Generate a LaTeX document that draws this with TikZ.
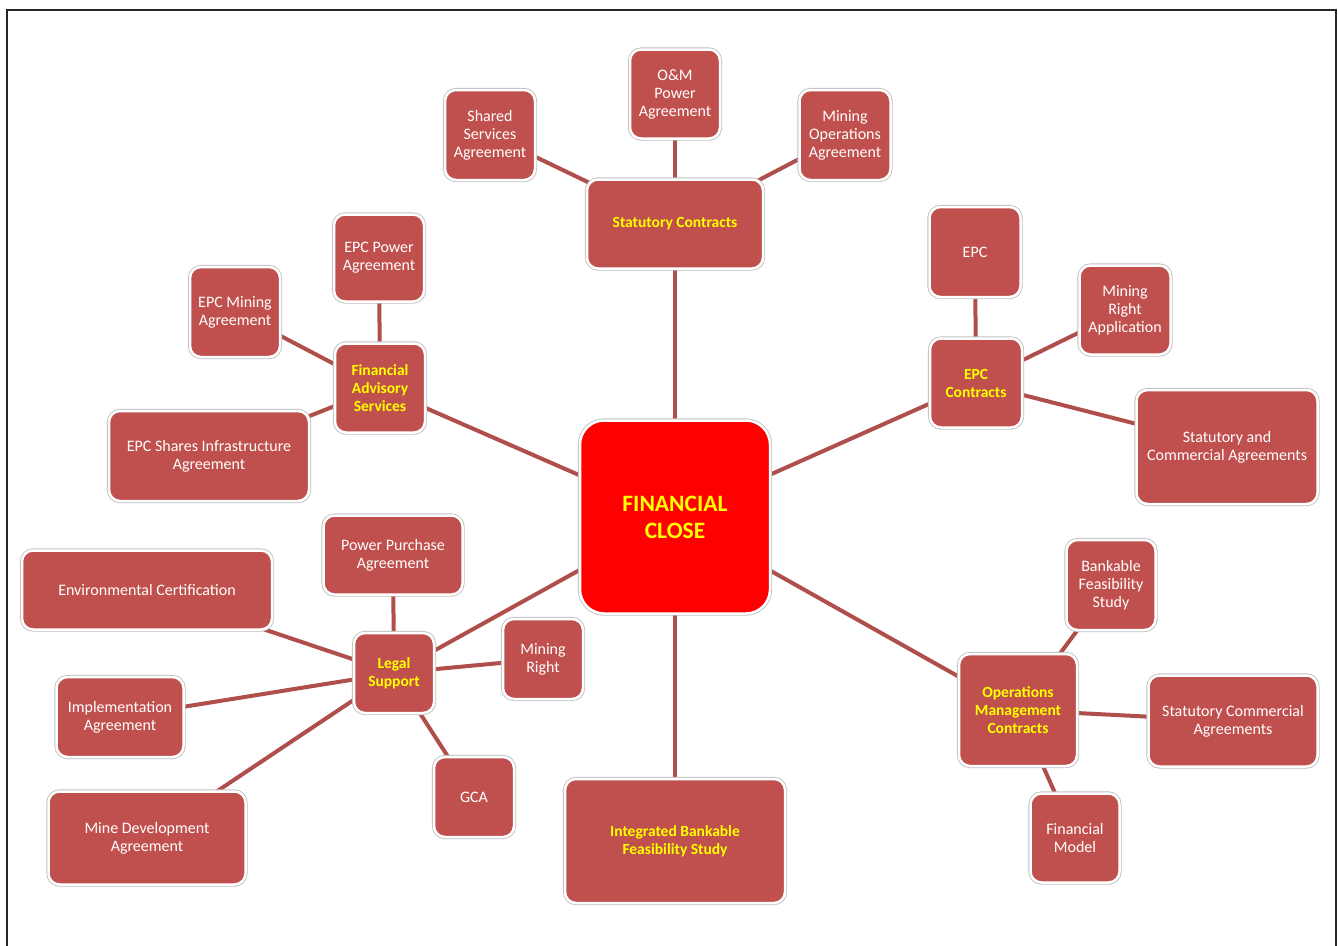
\documentclass[tikz,border=0pt]{standalone}
\usepackage{fontspec}
\setmainfont{Carlito}
\usetikzlibrary{backgrounds}
\definecolor{boxred}{HTML}{C0504D}
\definecolor{linkred}{HTML}{B04E4B}
\definecolor{hubred}{HTML}{FF0000}
\definecolor{labelyellow}{HTML}{FFFF00}
\tikzset{
  basebox/.style={rounded corners=11pt, fill=boxred, draw=white, line width=2.5pt,
    preaction={draw=black!25, line width=4.2pt}, align=center, inner sep=2pt},
  leafbox/.style={basebox, text=white, font=\fontsize{16}{18}\selectfont},
  groupbox/.style={basebox, text=labelyellow, font=\bfseries\fontsize{15.5}{18}\selectfont},
  hubbox/.style={basebox, fill=hubred, rounded corners=24pt, text=labelyellow, font=\bfseries\fontsize{23.5}{27}\selectfont},
  link/.style={draw=linkred, line width=4pt},
  sz/.style 2 args={minimum width=#1pt, minimum height=#2pt}
}
\begin{document}
\begin{tikzpicture}[x=1pt,y=-1pt]
\useasboundingbox (0,0) rectangle (1338,945);
\draw[black!85, line width=2pt] (7,946) -- (7,10) -- (1336,10) -- (1336,946);

\node[hubbox, sz={190}{193}] (fc) at (675,517) {FINANCIAL\\CLOSE};

\node[groupbox, sz={176}{89}] (sc) at (675,224) {Statutory Contracts};
\node[leafbox, sz={90}{90}] (ssa) at (490,135) {Shared\\Services\\Agreement};
\node[leafbox, sz={90}{89}] (om) at (675,94) {O\&M\\Power\\Agreement};
\node[leafbox, sz={91}{90}] (moa) at (845,135) {Mining\\Operations\\Agreement};

\node[groupbox, sz={90}{89}] (fas) at (380,388) {Financial\\Advisory\\Services};
\node[leafbox, sz={90}{87}] (epa) at (379,258) {EPC Power\\Agreement};
\node[leafbox, sz={90}{90}] (ema) at (235,312) {EPC Mining\\Agreement};
\node[leafbox, sz={200}{90}] (esia) at (209,456) {EPC Shares Infrastructure\\Agreement};

\node[groupbox, sz={92}{89}] (epcc) at (976,383) {EPC\\Contracts};
\node[leafbox, sz={91}{90}] (epc) at (975,252) {EPC};
\node[leafbox, sz={91}{89}] (mra) at (1125,310) {Mining\\Right\\Application};
\node[leafbox, sz={181}{114}] (sca) at (1227,447) {Statutory and\\Commercial Agreements};

\node[groupbox, sz={80}{80}] (ls) at (394,673) {Legal\\Support};
\node[leafbox, sz={139}{79}] (ppa) at (393,555) {Power Purchase\\Agreement};
\node[leafbox, sz={250}{79}] (ec) at (147,590) {Environmental Certification};
\node[leafbox, sz={127}{80}] (ia) at (120,717) {Implementation\\Agreement};
\node[leafbox, sz={197}{93}] (mda) at (147,838) {Mine Development\\Agreement};
\node[leafbox, sz={80}{80}] (mr) at (543,659) {Mining\\Right};
\node[leafbox, sz={80}{80}] (gca) at (474,797) {GCA};

\node[groupbox, sz={220}{124}] (ibfs) at (675,841) {Integrated Bankable\\Feasibility Study};

\node[groupbox, sz={118}{112}] (omc) at (1018,710) {Operations\\Management\\Contracts};
\node[leafbox, sz={89}{90}] (bfs) at (1111,585) {Bankable\\Feasibility\\Study};
\node[leafbox, sz={169}{91}] (scag) at (1233,721) {Statutory Commercial\\Agreements};
\node[leafbox, sz={89}{89}] (fm) at (1075,838) {Financial\\Model};

\begin{pgfonlayer}{background}
\foreach \a/\b in {fc/sc, fc/fas, fc/epcc, fc/ls, fc/omc, fc/ibfs,
  sc/ssa, sc/om, sc/moa,
  fas/epa, fas/ema, fas/esia,
  epcc/epc, epcc/mra, epcc/sca,
  ls/ppa, ls/ec, ls/ia, ls/mda, ls/mr, ls/gca,
  omc/bfs, omc/scag, omc/fm}
  \draw[link] (\a.center) -- (\b.center);
\end{pgfonlayer}
\end{tikzpicture}
\end{document}
